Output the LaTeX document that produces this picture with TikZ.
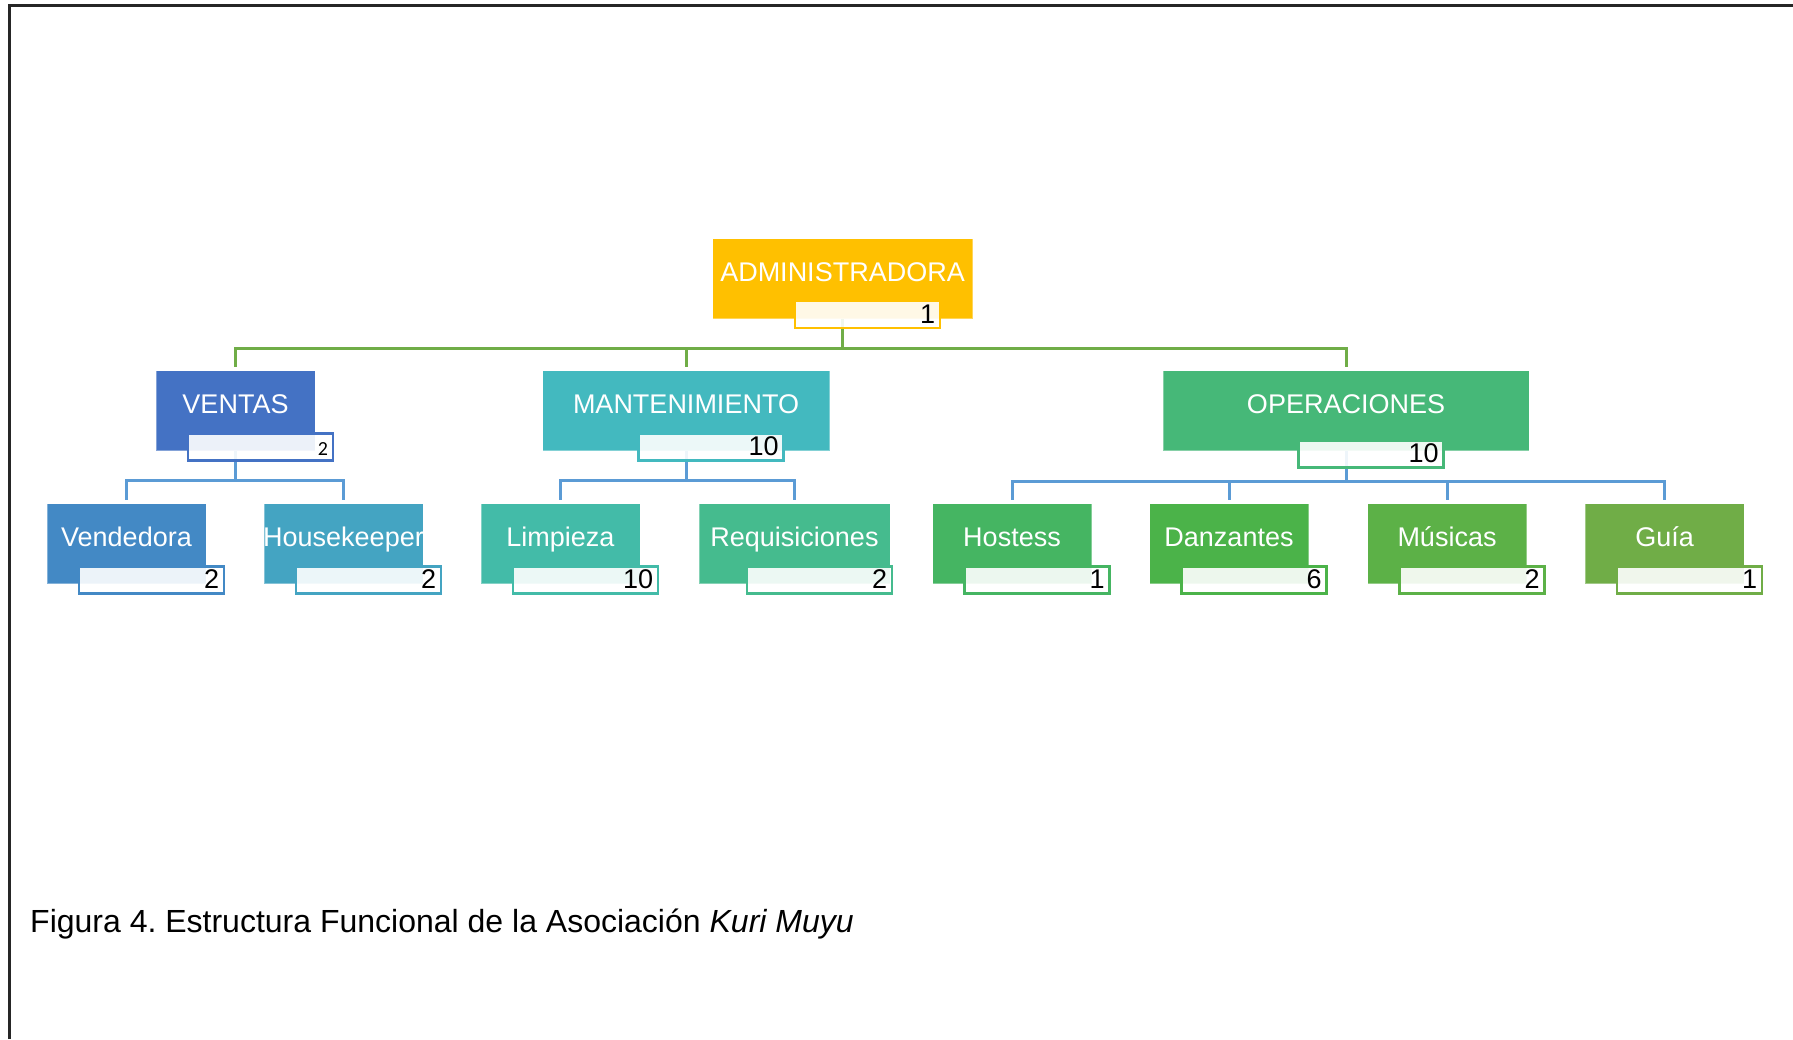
\documentclass[tikz,border=0pt]{standalone}
\usepackage{fontspec}
\setmainfont{Liberation Sans}
\newfontfamily\calibfont{Carlito}
\frenchspacing

\definecolor{cAdmin}{HTML}{FFC000}
\definecolor{cVentas}{HTML}{4472C4}
\definecolor{cVend}{HTML}{4389C5}
\definecolor{cHouse}{HTML}{44A4C2}
\definecolor{cMant}{HTML}{43B9BF}
\definecolor{cLimp}{HTML}{43BBA8}
\definecolor{cRequ}{HTML}{45BB8E}
\definecolor{cOper}{HTML}{46B878}
\definecolor{cHost}{HTML}{45B562}
\definecolor{cDanz}{HTML}{4BB349}
\definecolor{cMus}{HTML}{5CB147}
\definecolor{cGuia}{HTML}{70AD47}
\definecolor{lineGreen}{HTML}{70AD47}
\definecolor{lineBlue}{HTML}{5B9BD5}

\pgfdeclarelayer{bg}
\pgfsetlayers{bg,main}

% one unit of the chart: coloured box, its title and the head-count tab
% #1 name, #2 centre x, #3 top y, #4 width, #5 colour, #6 title, #7 count, #8 tab drop
\newcommand\orgunit[8]{%
  \node[orgbox=#5, minimum width=#4] (#1) at (#2,#3) {};
  \node[orglbl] (#1-t) at ([yshift=-43.5]#1.north) {#6};
  \node[numtab=#5] (#1-n) at ([xshift=25, yshift=-#8]#1.south) {};
  \node[numtxt] (#1-v) at ([xshift=-6, yshift=6]#1-n.south east) {#7};
}

\begin{document}
\begin{tikzpicture}[x=1pt, y=-1pt,
  orgbox/.style={rectangle, fill=#1, draw=white, draw opacity=0.35, line width=1,
    inner sep=0, minimum height=80, anchor=north},
  orglbl/.style={anchor=base, text=white, inner sep=0, font=\fontsize{27}{32}\selectfont},
  numtab/.style={rectangle, fill=white, fill opacity=0.9, draw=#1, line width=2.5,
    inner sep=0, minimum width=145, minimum height=27, anchor=south},
  numtxt/.style={anchor=base east, text=black, inner sep=0, font=\fontsize{27}{32}\selectfont},
  topline/.style={draw=lineGreen, line width=3},
  subline/.style={draw=lineBlue, line width=3},
  drop/.style={shorten >=3pt}]

\useasboundingbox (0,0) rectangle (1793,1039);

% page frame
\draw[line width=2.4, black!85] (9.5,1039) -- (9.5,5.3) -- (1793,5.3);

% level 0
\orgunit{admin}{842.5}{238}{260}{cAdmin}{ADMINISTRADORA}{1}{10}

% level 1
\orgunit{ventas}{235.5}{370}{159}{cVentas}{VENTAS}{{\fontsize{20}{24}\calibfont 2}}{10.5}
\orgunit{mant}{686}{370}{287}{cMant}{MANTENIMIENTO}{10}{10.5}
\orgunit{oper}{1346}{370}{366}{cOper}{OPERACIONES}{10}{17.5}

% level 2
\orgunit{vend}{126.5}{503}{159}{cVend}{Vendedora}{2}{10.5}
\orgunit{house}{343.5}{503}{159}{cHouse}{Housekeeper}{2}{10.5}
\orgunit{limp}{560.5}{503}{159}{cLimp}{Limpieza}{10}{10.5}
\orgunit{requ}{794.5}{503}{191}{cRequ}{Requisiciones}{2}{10.5}
\orgunit{host}{1012}{503}{159}{cHost}{Hostess}{1}{10.5}
\orgunit{danz}{1229}{503}{159}{cDanz}{Danzantes}{6}{10.5}
\orgunit{mus}{1447}{503}{159}{cMus}{Músicas}{2}{10.5}
\orgunit{guia}{1664.5}{503}{159}{cGuia}{Guía}{1}{10.5}

% connector buses
\coordinate (bus0) at (0,348);
\coordinate (busV) at (0,480);
\coordinate (busM) at (0,480);
\coordinate (busO) at (0,481.5);

% connectors sit below the boxes, so the translucent tabs let them show faintly
\begin{pgfonlayer}{bg}
  \draw[topline] (admin.south) -- (admin.south |- bus0);
  \draw[topline, drop] (admin.south |- bus0) -| (ventas.north);
  \draw[topline, drop] (admin.south |- bus0) -| (mant.north);
  \draw[topline, drop] (admin.south |- bus0) -| (oper.north);

  \draw[subline] (ventas.south) -- (ventas.south |- busV);
  \draw[subline, drop] (ventas.south |- busV) -| (vend.north);
  \draw[subline, drop] (ventas.south |- busV) -| (house.north);

  \draw[subline] (mant.south) -- (mant.south |- busM);
  \draw[subline, drop] (mant.south |- busM) -| (limp.north);
  \draw[subline, drop] (mant.south |- busM) -| (requ.north);

  \draw[subline] (oper.south) -- (oper.south |- busO);
  \draw[subline, drop] (oper.south |- busO) -| (host.north);
  \draw[subline, drop] (oper.south |- busO) -| (danz.north);
  \draw[subline, drop] (oper.south |- busO) -| (mus.north);
  \draw[subline, drop] (oper.south |- busO) -| (guia.north);
\end{pgfonlayer}

% caption
\node[anchor=base west, inner sep=0, font=\fontsize{32}{38}\selectfont] (caption) at (30,932)
  {Figura 4. Estructura Funcional de la Asociación \textit{Kuri Muyu}};
\end{tikzpicture}
\end{document}
